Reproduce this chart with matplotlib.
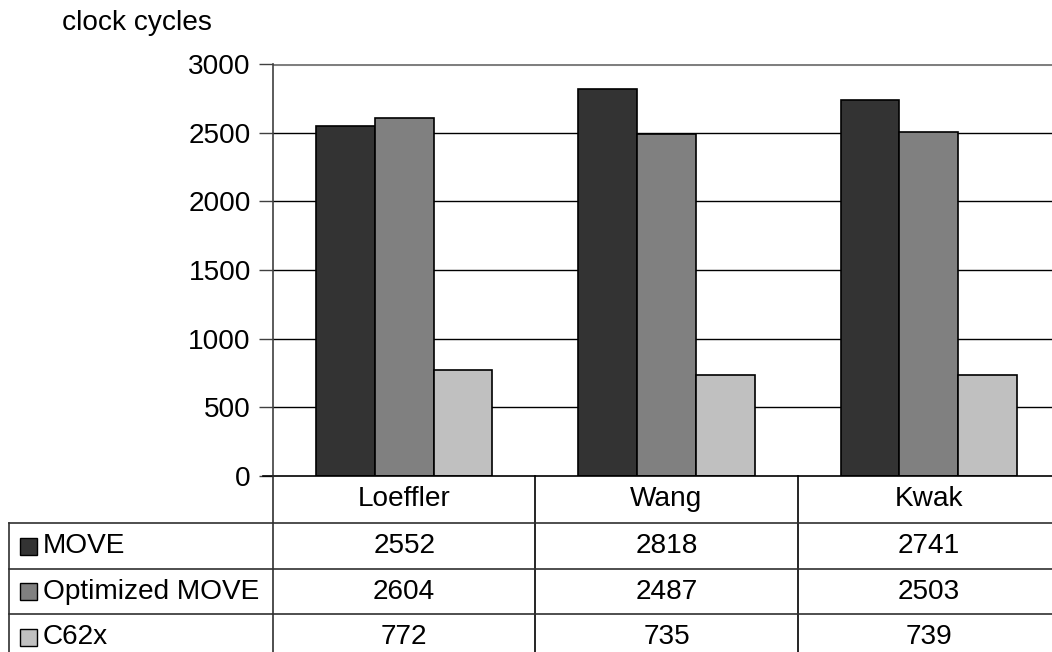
import matplotlib
matplotlib.use("Agg")
import matplotlib.pyplot as plt
from matplotlib.transforms import blended_transform_factory
from matplotlib.patches import Rectangle
from matplotlib.lines import Line2D

categories = ["Loeffler", "Wang", "Kwak"]
series_names = ["MOVE", "Optimized MOVE", "C62x"]
move = [2552, 2818, 2741]
opt_move = [2604, 2487, 2503]
c62x = [772, 735, 739]
yticks = [0, 500, 1000, 1500, 2000, 2500, 3000]
colors = ["#333333", "#808080", "#c0c0c0"]

plt.rcParams['font.family'] = ['Liberation Sans', 'DejaVu Sans']
FS = 20.2
W, H = 1052, 652
fig = plt.figure(figsize=(W / 100, H / 100), dpi=100)

def fx(px):
    return px / W

def fy(py):
    return 1 - py / H

ax_left, ax_right, ax_top, ax_bot = 273, 1060, 64, 476
ax = fig.add_axes([fx(ax_left), fy(ax_bot), fx(ax_right - ax_left), fy(ax_top) - fy(ax_bot)])
ax.set_xlim(-0.5, len(categories) - 0.5)
ax.set_ylim(0, 3000)

values = [move, opt_move, c62x]
bw = 0.224
for i, (vals, col) in enumerate(zip(values, colors)):
    xs = [k + (i - 1) * bw for k in range(len(categories))]
    ax.bar(xs, vals, width=bw, color=col, edgecolor="black", linewidth=1.2, zorder=3)

for t in yticks[1:-1]:
    ax.axhline(t, color="black", linewidth=1.0, zorder=1)
ax.axhline(3000, color="#808080", linewidth=2.2, zorder=1)

for s in ["top", "right", "bottom"]:
    ax.spines[s].set_visible(False)
ax.spines["left"].set_color("#404040")
ax.spines["left"].set_linewidth(1.2)
ax.set_xticks([])
ax.set_yticks(yticks)
ax.set_yticklabels([str(t) for t in yticks], fontsize=FS)
ax.tick_params(axis="y", length=10, width=1.0, color="#404040", pad=6)

fig.text(fx(62), fy(23), "clock cycles", fontsize=FS, ha="left", va="center")

# table
ln_col = "#303030"
tr = blended_transform_factory(ax.transData, fig.transFigure)
row_lines = [522.7, 569.3, 614]
bottom_py = 700
fig.add_artist(Line2D([fx(263), fx(1060)], [fy(ax_bot), fy(ax_bot)], color="black", linewidth=1.2))
for py in row_lines:
    fig.add_artist(Line2D([fx(9), fx(1060)], [fy(py), fy(py)], color=ln_col, linewidth=1.2))
fig.add_artist(Line2D([fx(9), fx(9)], [fy(row_lines[0]), fy(bottom_py)], color=ln_col, linewidth=1.2))
fig.add_artist(Line2D([fx(ax_left), fx(ax_left)], [fy(ax_bot), fy(bottom_py)], color=ln_col, linewidth=1.2))
for b in [0.5, 1.5]:
    ax.add_artist(Line2D([b, b], [fy(ax_bot), fy(bottom_py)], color="black", linewidth=1.2,
                         transform=tr, clip_on=False))

header_c = (ax_bot + row_lines[0]) / 2
for k, c in enumerate(categories):
    ax.text(k, fy(header_c), c, transform=tr, ha="center", va="center", fontsize=FS, clip_on=False)

row_bounds = row_lines + [660]
for r, (name, vals, col) in enumerate(zip(series_names, values, colors)):
    cy = (row_bounds[r] + row_bounds[r + 1]) / 2
    sq = 17
    fig.add_artist(Rectangle((fx(19.5), fy(cy + sq / 2)), fx(sq), fy(cy - sq / 2) - fy(cy + sq / 2),
                             facecolor=col, edgecolor="black", linewidth=1.0))
    fig.text(fx(43), fy(cy), name, fontsize=FS, ha="left", va="center")
    for k, v in enumerate(vals):
        ax.text(k, fy(cy), str(v), transform=tr, ha="center", va="center", fontsize=FS, clip_on=False)

fig.savefig("out.png", dpi=100)
